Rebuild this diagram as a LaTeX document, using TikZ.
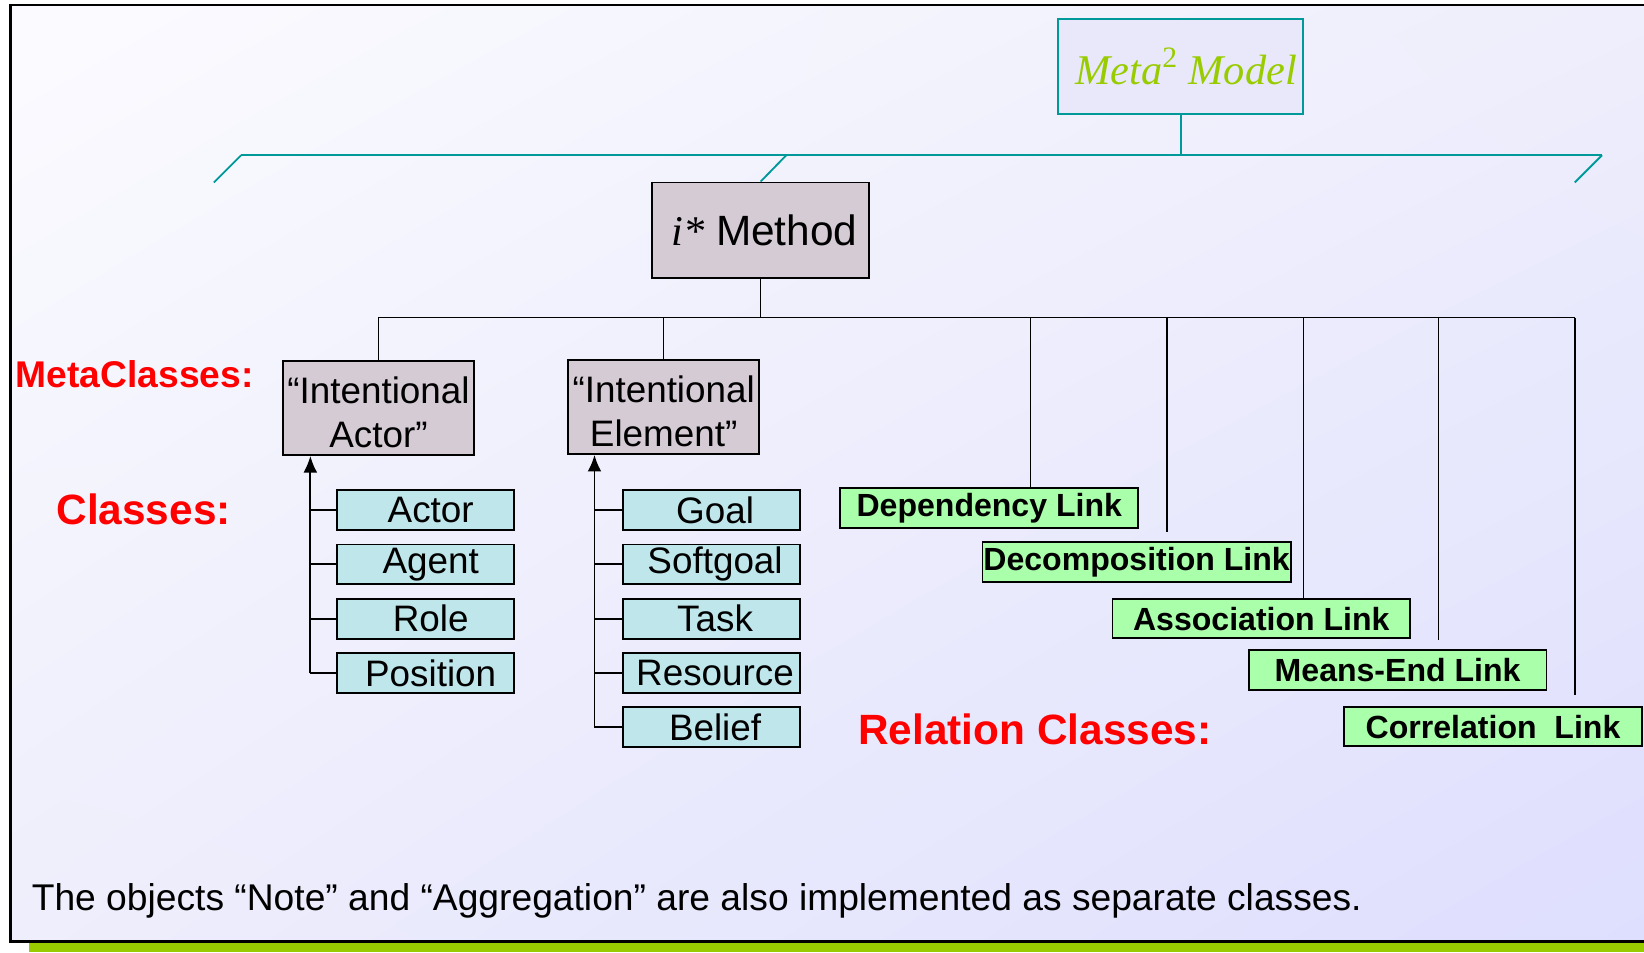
\documentclass[tikz,border=0pt]{standalone}
\usepackage{fontspec}
\setmainfont{Liberation Sans}
\newfontfamily\timesfont{Liberation Serif}
\usetikzlibrary{arrows,arrows.meta,shadings}

\definecolor{metateal}{RGB}{0,153,153}
\definecolor{metagreen}{RGB}{153,204,0}
\definecolor{metafill}{RGB}{232,232,250}
\definecolor{methodfill}{RGB}{213,203,213}
\definecolor{classfill}{RGB}{190,230,235}
\definecolor{linkfill}{RGB}{170,255,170}
\definecolor{bgA}{RGB}{251,251,255}
\definecolor{bgB}{RGB}{238,238,252}
\definecolor{bgC}{RGB}{222,222,254}

\begin{document}
\begin{tikzpicture}[x=0.02cm,y=-0.02cm]

\newcommand{\busy}{303}
\path[use as bounding box] (0,0) rectangle (1568,908);

% slide background
\shade[upper left=bgA, upper right=bgB, lower left=bgB, lower right=bgC]
  (10,5) rectangle (1568,898);
\fill[metagreen] (28,899.5) rectangle (1568,908);
\draw[line width=1.2pt] (1568,5) -- (10,5) -- (10,898) -- (1568,898);

\tikzstyle{every node}=[inner sep=0pt,
 font=\fontsize{20}{24}\selectfont];
\tikzstyle{metabox}=[draw=black, line width=1pt, fill=methodfill, align=center];
\tikzstyle{classbox}=[draw=black, line width=1pt, fill=classfill,
 minimum width=3.38cm, minimum height=0.76cm];
\tikzstyle{linkbox}=[draw=black, line width=1pt, fill=linkfill,
 minimum width=5.68cm, minimum height=0.75cm,
 font=\fontsize{17.4}{20}\selectfont\bfseries];
\tikzstyle{redlabel}=[text=red, font=\fontsize{23}{27}\selectfont\bfseries];

  \node(meta)[draw=metateal, line width=1pt, fill=metafill,
    minimum width=4.68cm, minimum height=1.82cm, text=metagreen,
    font=\fontsize{23}{27}\selectfont\timesfont\itshape] at (1126,63.5)
    {\hspace{6pt}Meta\textsuperscript{\upshape 2} Model};
  \node(method)[metabox, minimum width=4.14cm, minimum height=1.82cm,
    font=\fontsize{23}{27}\selectfont] at (725.5,219.5)
    {\hspace{4pt}{\timesfont\itshape i*}~Method};

  \node(ia)[metabox, minimum width=3.64cm, minimum height=1.8cm] at (361,389)
    {\rule{0pt}{19pt}“Intentional\\Actor”};
  \node(ie)[metabox, minimum width=3.64cm, minimum height=1.8cm] at (633,388)
    {\rule{0pt}{19pt}“Intentional\\Element”};

    \foreach \name [count=\i] in {Actor,Agent,Role,Position}{
        \node(a\i)[classbox] at (405.5,{486.5+51.8*(\i-1)}) {\hspace{6pt}\name};
    }
    \foreach \name [count=\i] in {Goal,Softgoal,Task,Resource,Belief}{
        \node(e\i)[classbox] at (678.5,{486.5+51.8*(\i-1)}) {\hspace{4pt}\name};
    }

  \node(r1)[linkbox] at (943.5,484.5) {Dependency Link};
  \node(r2)[linkbox, minimum width=5.88cm] at (1084,536) {Decomposition Link};
  \node(r3)[linkbox] at (1203,590) {Association Link};
  \node(r4)[linkbox] at (1333,639) {Means-End Link};
  \node(r5)[linkbox] at (1424,693) {Correlation\ \ Link};

  \node(lmeta)[redlabel, font=\fontsize{20.2}{24}\selectfont\bfseries] at (128.5,357) {MetaClasses:};
  \node(lclass)[redlabel] at (137,486) {Classes:};
  \node(lrel)[redlabel] at (987,696) {Relation Classes:};
  \node(note)[anchor=west, font=\fontsize{20.2}{24}\selectfont] at (30,859)
    {The objects “Note” and “Aggregation” are also implemented as separate classes.};

% meta model fork
\coordinate(tl) at (230,148);
\coordinate(tm) at (750,148);
\coordinate(tr) at (1528,148);
\coordinate(tl') at (204,174);
\coordinate(tr') at (1502,174);
\path[metateal, line width=1pt]
  (meta.south) edge (meta.south |- tl)
  (tl) edge (tr)
  (tl) edge (tl')
  (tm) edge (method.north)
  (tr) edge (tr');

% method tree
\coordinate(b7) at (1502,\busy);
\draw[line width=0.8pt] (ia.north) |- (b7);
\path[line width=0.8pt]
  (method.south) edge (method.south |- b7)
  (ie.north) edge (ie.north |- b7);

\foreach \x/\s [count=\i] in {983/0,1113/5,1243/0,1372/5,1502/6}{
  \coordinate(d\i) at (\x,\busy);
  \draw[line width=0.8pt, shorten >=\s] (d\i) -- (d\i |- r\i.north);
}

% inheritance arrows
\coordinate(ta) at (296,0);
\coordinate(te) at (567,0);
\draw[line width=1pt, -{Latex[length=9pt,width=7.5pt]}] (a4.west -| ta) -- (ta |- ia.south);
\draw[line width=1pt, -{Latex[length=9pt,width=7.5pt]}] (e5.west -| te) -- (te |- ie.south);
\foreach \i in {1,...,4}
  \draw[line width=1pt] (a\i.west) -- (a\i.west -| ta);
\foreach \i in {1,...,5}
  \draw[line width=1pt] (e\i.west) -- (e\i.west -| te);

\end{tikzpicture}
\end{document}
